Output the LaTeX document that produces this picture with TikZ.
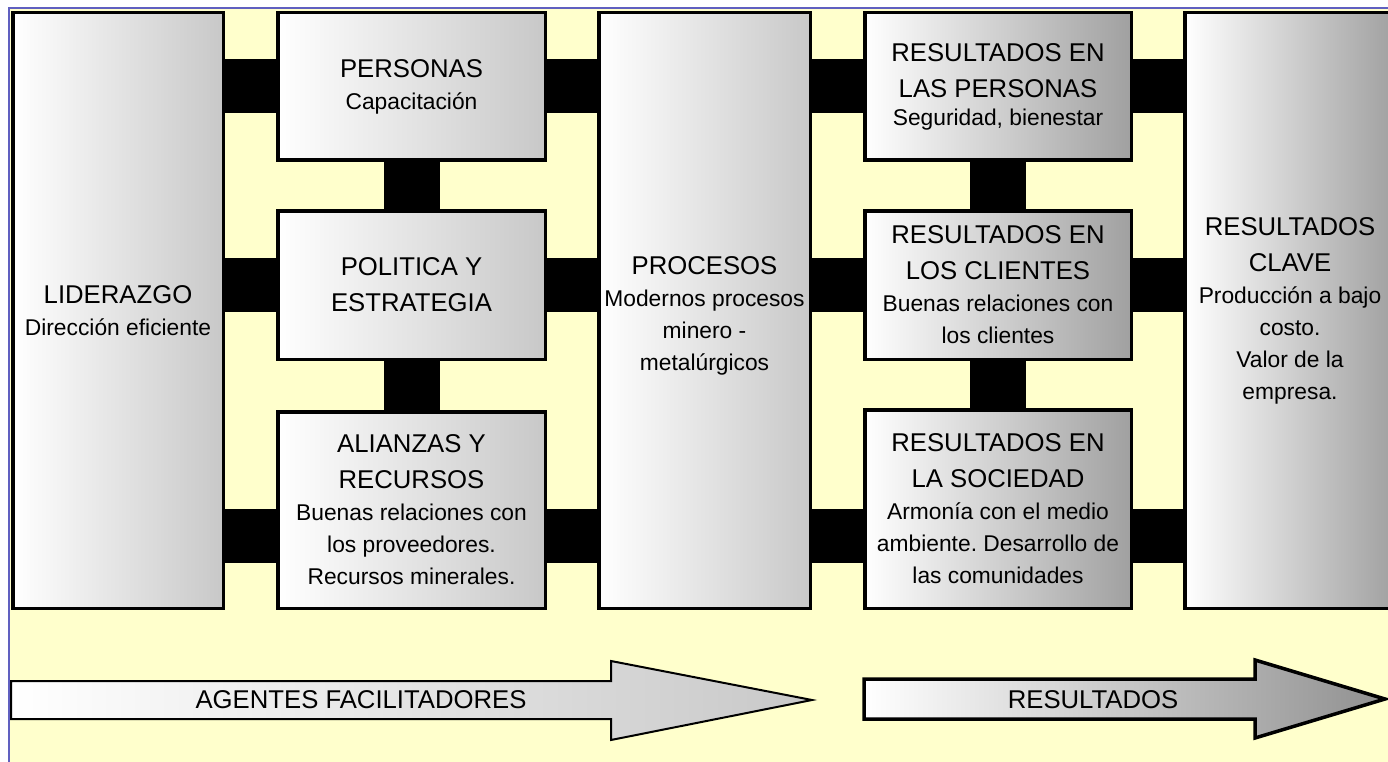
\documentclass[tikz,border=0pt]{standalone}
\usepackage{fontspec}
\setmainfont{Liberation Sans}
\usetikzlibrary{calc}
\definecolor{bgyellow}{HTML}{FFFFCC}
\definecolor{frameblue}{HTML}{6060C0}
\definecolor{lightend}{HTML}{C8C8C8}
\definecolor{darkend}{HTML}{A0A0A0}
\newcommand\ttlfont{\fontsize{25.7}{36}\selectfont\spaceskip=\fontdimen2\font\xspaceskip=\fontdimen2\font\relax}
\newcommand\subfont{\fontsize{22.8}{32}\selectfont\spaceskip=\fontdimen2\font\xspaceskip=\fontdimen2\font\relax}
\begin{document}
\begin{tikzpicture}[x=1pt,y=-1pt,
  panel/.style={draw=black, line width=3.5pt, rectangle, inner sep=0pt, align=center,
                left color=white, right color=lightend},
  darkpanel/.style={panel, right color=darkend},
  bar/.style={draw=black, line width=54pt, line cap=butt},
  vbar/.style={draw=black, line width=56pt, line cap=butt},
  arrowshape/.style={draw=black, line join=miter},
  arrowlabel/.style={anchor=base, inner sep=0pt, font=\ttlfont}
]
\useasboundingbox (0,0) rectangle (1388,762);
\fill[white] (0,0) rectangle (1388,762);
\draw[fill=bgyellow, draw=frameblue, line width=2pt] (9,8) rectangle (1400,775);

% left enablers
\node[panel, minimum width=210.5, minimum height=595.5, text width=204] (lid) at (118,310.5)
  {{\ttlfont LIDERAZGO\par}{\subfont Dirección eficiente\par}};
\node[panel, minimum width=267.5, minimum height=147.5, text width=260] (per) at (411.5,86.5)
  {{\ttlfont PERSONAS\par}{\subfont Capacitación\par}};
\node[panel, minimum width=267.5, minimum height=148.5, text width=260] (pol) at (411.5,285)
  {{\ttlfont POLITICA Y\\ESTRATEGIA\par}};
\node[panel, minimum width=267.5, minimum height=196.5, text width=260] (ali) at (411.5,510)
  {{\ttlfont ALIANZAS Y\\RECURSOS\par}{\subfont Buenas relaciones con\\los proveedores.\\Recursos minerales.\par}};
\node[panel, minimum width=211.5, minimum height=595.5, text width=208] (proc) at (704.5,310.5)
  {{\ttlfont\rule{0pt}{28pt}PROCESOS\par}{\subfont Modernos procesos\\minero -\\metalúrgicos\par}};

% results
\node[darkpanel, minimum width=266.5, minimum height=147.5, text width=260] (r1) at (998,86.5)
  {{\ttlfont RESULTADOS EN\\LAS PERSONAS\par}{\subfont\vspace*{-4pt}Seguridad, bienestar\par}};
\node[darkpanel, minimum width=266.5, minimum height=148.5, text width=260] (r2) at (998,285)
  {{\ttlfont RESULTADOS EN\\LOS CLIENTES\par}{\subfont Buenas relaciones con\\los clientes\par}};
\node[darkpanel, minimum width=266.5, minimum height=198.5, text width=260] (r3) at (998,509)
  {{\ttlfont RESULTADOS EN\\LA SOCIEDAD\par}{\subfont Armonía con el medio\\ambiente. Desarrollo de\\las comunidades\par}};
\node[darkpanel, minimum width=210.5, minimum height=595.5, text width=204] (clave) at (1290,310.5)
  {{\ttlfont RESULTADOS\\CLAVE\par}{\subfont Producción a bajo\\costo.\\Valor de la\\empresa.\par}};

% horizontal connectors
\draw[bar] (lid.east |- per.west) -- (per.west);
\draw[bar] (per.east) -- (proc.west |- per.east);
\draw[bar] (lid.east |- pol.west) -- (pol.west);
\draw[bar] (pol.east) -- (proc.west |- pol.east);
\coordinate (aliL) at ([yshift=-25.5pt]ali.west);
\coordinate (aliR) at ([yshift=-25.5pt]ali.east);
\draw[bar] (lid.east |- aliL) -- (aliL);
\draw[bar] (aliR) -- (proc.west |- aliR);

\draw[bar] (proc.east |- r1.west) -- (r1.west);
\draw[bar] (r1.east) -- (clave.west |- r1.east);
\draw[bar] (proc.east |- r2.west) -- (r2.west);
\draw[bar] (r2.east) -- (clave.west |- r2.east);
\coordinate (r3L) at ([yshift=-26.5pt]r3.west);
\coordinate (r3R) at ([yshift=-26.5pt]r3.east);
\draw[bar] (proc.east |- r3L) -- (r3L);
\draw[bar] (r3R) -- (clave.west |- r3R);

% vertical connectors
\draw[vbar] (per.south) -- (pol.north);
\draw[vbar] (pol.south) -- (ali.north);
\draw[vbar] (r1.south) -- (r2.north);
\draw[vbar] (r2.south) -- (r3.north);

% bottom arrows
\path[arrowshape, line width=2pt, left color=white, right color=lightend]
  (11,681) -- (611,681) -- (611,661) -- (812,700) -- (611,740) -- (611,719) -- (11,719) -- cycle;
\node[arrowlabel] (agentes) at (361,708) {AGENTES FACILITADORES};
\path[arrowshape, line width=3.5pt, left color=white, right color=darkend!90!black]
  (864,679) -- (1255,679) -- (1255,660) -- (1385,699) -- (1255,738) -- (1255,719) -- (864,719) -- cycle;
\node[arrowlabel] (resultados) at (1093,708) {RESULTADOS};
\end{tikzpicture}
\end{document}
